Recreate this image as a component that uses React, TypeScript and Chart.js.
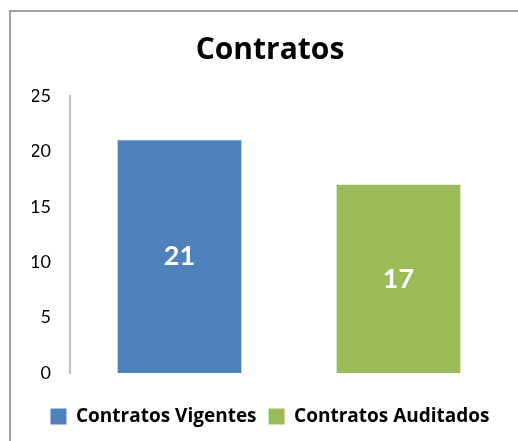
import React, { useEffect, useRef } from "react";
import { Chart, registerables } from "chart.js";

Chart.register(...registerables);

const chartTitle = "Contratos";
const categories = ["Contratos Vigentes", "Contratos Auditados"];
const seriesNames = ["Contratos Vigentes", "Contratos Auditados"];
const vigentesValues = [21, null];
const auditadosValues = [null, 17];
const seriesColors = ["#4F81BD", "#9BBB59"];
const yTicks = [0, 5, 10, 15, 20, 25];

const FONT = "Lato, 'Open Sans', sans-serif";
const WIDE_FONT = "'Open Sans', Lato, sans-serif";

const valueLabelPlugin = {
  id: "valueLabels",
  afterDatasetsDraw(chart: any) {
    const { ctx } = chart;
    ctx.save();
    ctx.fillStyle = "#ffffff";
    ctx.font = `bold 27px ${FONT}`;
    ctx.textAlign = "center";
    ctx.textBaseline = "middle";
    chart.data.datasets.forEach((ds: any, di: number) => {
      const meta = chart.getDatasetMeta(di);
      meta.data.forEach((el: any, i: number) => {
        const v = ds.data[i];
        if (v === null || v === undefined) return;
        const { x, y, base } = el.getProps(["x", "y", "base"], true);
        ctx.fillText(String(v), x, (y + base) / 2);
      });
    });
    ctx.restore();
  },
};

export default function App() {
  const canvasRef = useRef<HTMLCanvasElement | null>(null);

  useEffect(() => {
    if (!canvasRef.current) return;
    const chart = new Chart(canvasRef.current, {
      type: "bar",
      data: {
        labels: categories,
        datasets: [
          {
            label: seriesNames[0],
            data: vigentesValues,
            backgroundColor: seriesColors[0],
            borderWidth: 0,
          },
          {
            label: seriesNames[1],
            data: auditadosValues,
            backgroundColor: seriesColors[1],
            borderWidth: 0,
          },
        ],
      },
      options: {
        animation: false,
        responsive: false,
        maintainAspectRatio: false,
        skipNull: true,
        categoryPercentage: 1,
        barPercentage: 0.565,
        layout: { padding: { left: 32, right: 10, top: 0, bottom: 5 } },
        plugins: {
          tooltip: { enabled: false },
          title: {
            display: true,
            text: chartTitle,
            color: "#000000",
            font: { family: WIDE_FONT, size: 30, weight: "bold", lineHeight: 1.2 },
            padding: { top: 32, bottom: 28 },
          },
          legend: {
            display: true,
            position: "bottom",
            labels: {
              color: "#000000",
              font: { family: WIDE_FONT, size: 19, weight: "bold" },
              boxWidth: 16,
              boxHeight: 16,
              padding: 12,
            },
          },
        },
        scales: {
          x: {
            display: true,
            grid: { display: false },
            border: { display: false },
            ticks: { display: false },
            afterFit: (scale: any) => {
              scale.height = 22;
            },
          } as any,
          y: {
            min: 0,
            max: 25,
            afterBuildTicks: (scale: any) => {
              scale.ticks = yTicks.map((v) => ({ value: v }));
            },
            afterFit: (scale: any) => {
              scale.width = 38;
            },
            grid: { display: false, drawTicks: false },
            border: { display: true, color: "#BFBFBF", width: 2 },
            ticks: {
              color: "#000000",
              padding: 19,
              font: { family: FONT, size: 18 },
            },
          } as any,
        },
      },
      plugins: [valueLabelPlugin],
    } as any);
    return () => chart.destroy();
  }, []);

  return (
    <div style={{ position: "fixed", left: 0, top: 0, width: 518, height: 441, background: "#fff", overflow: "hidden" }}>
      <div
        style={{
          position: "absolute",
          left: 9,
          top: 10,
          width: 530,
          height: 460,
          borderLeft: "2px solid #A0A0A0",
          borderTop: "2px solid #A0A0A0",
        }}
      />
      <canvas ref={canvasRef} width={518} height={441} style={{ position: "absolute", left: 0, top: 0 }} />
    </div>
  );
}
